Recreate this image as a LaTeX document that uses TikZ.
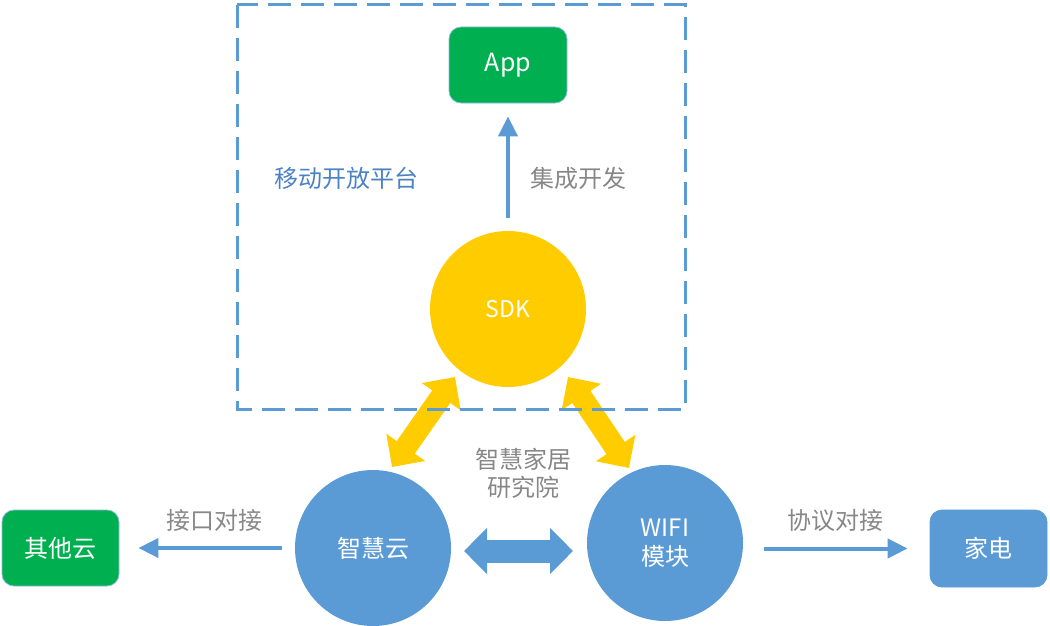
\documentclass[tikz,border=0pt]{standalone}
\usepackage{fontspec}
\setmainfont{Noto Sans CJK SC}
\usetikzlibrary{arrows.meta}
\definecolor{mblue}{HTML}{5B9BD5}
\definecolor{mgreen}{HTML}{00B050}
\definecolor{myellow}{HTML}{FFCC00}
\definecolor{mgray}{HTML}{878787}
\definecolor{tblue}{HTML}{4A82C4}
\tikzset{
  lbl/.style={font=\fontsize{24}{29}\selectfont, inner sep=0pt},
  gbox/.style={lbl, rounded corners=12pt, fill=mgreen, draw=mblue!70, line width=0.8pt, minimum width=118pt, minimum height=76pt, text=white},
  bbox/.style={lbl, rounded corners=12pt, fill=mblue, draw=mblue, line width=0.8pt, minimum width=117pt, minimum height=77pt, text=white},
  ycirc/.style={lbl, circle, fill=myellow, minimum size=156pt, text=white},
  bcirc/.style={lbl, circle, fill=mblue, minimum size=156pt, text=white},
  graytext/.style={lbl, text=mgray},
  bluetext/.style={lbl, text=tblue},
  thinarrow/.style={draw=mblue, line width=4pt, -{Triangle[length=20pt,width=19pt]}},
  fatyellow/.style={draw=myellow, line width=22pt, {Triangle[length=24pt,width=46pt]}-{Triangle[length=24pt,width=46pt]}},
  fatblue/.style={draw=mblue, line width=23pt, {Triangle[length=23pt,width=45pt]}-{Triangle[length=23pt,width=45pt]}},
  dashbox/.style={draw=mblue, line width=3pt, dash pattern=on 23pt off 10pt}
}
\begin{document}
\begin{tikzpicture}[x=1pt,y=-1pt]
\useasboundingbox (0,0) rectangle (1050,626);
% nodes
\node[gbox, font=\fontsize{25}{30}\selectfont] (app) at (508,65) {App};
\node[ycirc, font=\fontsize{23}{28}\selectfont] (sdk) at (508,309) {SDK};
\node[bcirc] (cloud) at (373,548) {智慧云};
\node[bcirc, align=center, font=\fontsize{24}{29}\selectfont] (wifi) at (665,543) {WIFI\\模块};
\node[gbox, minimum width=117pt] (other) at (60.5,548) {其他云};
\node[bbox] (home) at (988.5,548.5) {家电};
% texts
\node[bluetext] (plat) at (346,178) {移动开放平台};
\node[graytext] (integ) at (578,178) {集成开发};
\node[graytext, align=center, font=\fontsize{24}{28}\selectfont] (inst) at (523,473) {智慧家居\\研究院};
\node[graytext] (iface) at (214,520) {接口对接};
\node[graytext] (proto) at (835,520) {协议对接};
% connectors
\draw[thinarrow, shorten <=13pt, shorten >=13pt] (sdk.north) -- (app.south);
\draw[thinarrow, shorten <=13pt, shorten >=19pt] (cloud.west) -- (other.east);
\draw[thinarrow, shorten <=21pt, shorten >=22pt] (wifi.east |- home.west) -- (home.west);
\coordinate (ya1) at (455,377);
\coordinate (ya2) at (392,467);
\coordinate (yb1) at (568,377);
\coordinate (yb2) at (629,468);
\coordinate (ba) at (464,551);
\coordinate (bb) at (573,551);
\draw[fatyellow] (ya1) -- (ya2);
\draw[fatyellow] (yb1) -- (yb2);
\draw[fatblue] (ba) -- (bb);
% dashed platform frame
\draw[dashbox] (237,5) rectangle (685,409);
\end{tikzpicture}
\end{document}
